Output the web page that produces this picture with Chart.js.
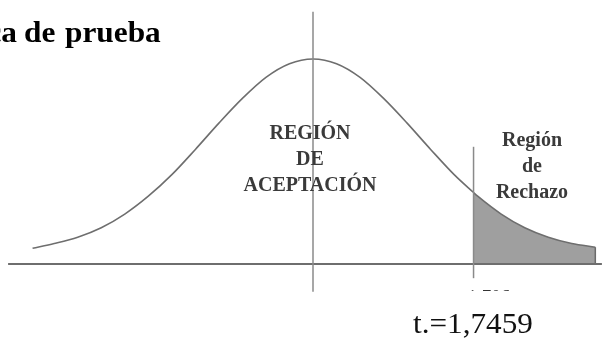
<!DOCTYPE html>
<html>
<head>
<meta charset="utf-8">
<script src="https://cdn.jsdelivr.net/npm/chart.js@4"></script>
<style>
  html, body { margin: 0; padding: 0; background: #fff; }
  #wrap { width: 602px; height: 338px; }
</style>
</head>
<body>
<div id="wrap"><canvas id="chart" width="602" height="338"></canvas></div>
<script>
// ── Data (t units / density units) ──────────────────────────────────────────
const tValues = [-2.98, -2.75, -2.5, -2.25, -2.0, -1.75, -1.5, -1.25, -1.0, -0.75, -0.5, -0.25,
                 0, 0.25, 0.5, 0.75, 1.0, 1.25, 1.5, 1.706, 1.75, 2.0, 2.25, 2.5, 2.75, 3.0];
const density = [0.030, 0.039, 0.051, 0.069, 0.095, 0.129, 0.170, 0.218, 0.268, 0.315, 0.355, 0.381,
                 0.390, 0.381, 0.355, 0.315, 0.268, 0.218, 0.170, 0.136, 0.129, 0.095, 0.069, 0.051, 0.039, 0.032];

const tCritical = 1.706;
const axisRange = [-3.24, 3.07];
const centerLineY = [-0.053, 0.48];
const criticalLineY = [-0.027, 0.223];

const titleWords = ['Estadística', 'de', 'prueba'];
const acceptLabel = ['REGIÓN', 'DE', 'ACEPTACIÓN'];
const rejectLabel = ['Región', 'de', 'Rechazo'];
const criticalLabel = 't = 1,706';
const statLabel = 't.=1,7459';

// ── Helpers ──────────────────────────────────────────────────────────────────
const curve = tValues.map((t, i) => ({ x: t, y: density[i] }));
const tail = curve.filter(p => p.x >= tCritical);
const lastTail = tail[tail.length - 1];

function segment(x0, y0, x1, y1, color, width, order) {
  return {
    data: [{ x: x0, y: y0 }, { x: x1, y: y1 }],
    borderColor: color, borderWidth: width,
    pointRadius: 0, fill: false, tension: 0, order,
  };
}

const SERIF = '"Liberation Serif", "Times New Roman", serif';

const textPlugin = {
  id: 'texts',
  afterDraw(chart) {
    const ctx = chart.ctx;
    ctx.save();
    ctx.textBaseline = 'alphabetic';

    // title (cut off at the left edge, like the source)
    ctx.fillStyle = '#000';
    ctx.font = `bold 29px ${SERIF}`;
    const drawScaled = (txt, x, align) => {
      ctx.save();
      ctx.translate(x, 42);
      ctx.scale(1.08, 1);
      ctx.textAlign = align;
      ctx.fillText(txt, 0, 0);
      ctx.restore();
    };
    drawScaled(titleWords[0], 17, 'right');
    drawScaled(titleWords[1], 24, 'left');
    drawScaled(titleWords[2], 65, 'left');

    // region labels
    ctx.fillStyle = '#3a3a3a';
    ctx.font = `bold 20px ${SERIF}`;
    ctx.textAlign = 'center';
    acceptLabel.forEach((s, i) => ctx.fillText(s, 310, 139 + i * 26));
    rejectLabel.forEach((s, i) => ctx.fillText(s, 532, 146 + i * 26));

    // critical value label, clipped like the source
    ctx.save();
    ctx.beginPath();
    ctx.rect(0, 0, 602, 291);
    ctx.clip();
    ctx.fillStyle = '#333';
    ctx.font = `19px ${SERIF}`;
    ctx.textAlign = 'left';
    ctx.fillText(criticalLabel, 442, 303);
    ctx.restore();

    // test statistic
    ctx.fillStyle = '#111';
    ctx.font = `30px ${SERIF}`;
    ctx.textAlign = 'left';
    ctx.save();
    ctx.translate(413, 333);
    ctx.scale(1.04, 1);
    ctx.fillText(statLabel, 0, 0);
    ctx.restore();

    ctx.restore();
  },
};

new Chart(document.getElementById('chart').getContext('2d'), {
  type: 'line',
  data: {
    datasets: [
      // rejection area
      {
        data: tail,
        borderColor: 'rgba(0,0,0,0)', borderWidth: 0,
        backgroundColor: '#9f9f9f',
        pointRadius: 0, fill: 'origin',
        cubicInterpolationMode: 'monotone', order: 10,
      },
      segment(lastTail.x, 0, lastTail.x, lastTail.y, '#6a6a6a', 1.5, 9),
      // density curve
      {
        data: curve,
        borderColor: '#6e6e6e', borderWidth: 1.6,
        pointRadius: 0, fill: false,
        cubicInterpolationMode: 'monotone', order: 5,
      },
      // horizontal axis
      segment(axisRange[0], 0, axisRange[1], 0, '#6e6e6e', 1.8, 4),
      // centre line
      segment(0, centerLineY[0], 0, centerLineY[1], '#8a8a8a', 1.5, 3),
      // critical value line
      segment(tCritical, criticalLineY[0], tCritical, criticalLineY[1], '#8a8a8a', 1.5, 2),
    ],
  },
  options: {
    responsive: false, animation: false,
    layout: { padding: 0 },
    plugins: { legend: { display: false }, tooltip: { enabled: false } },
    scales: {
      x: { type: 'linear', display: false, min: -3.326, max: 3.071 },
      y: { type: 'linear', display: false, min: -0.1408, max: 0.5023 },
    },
  },
  plugins: [textPlugin],
});
</script>
</body>
</html>
